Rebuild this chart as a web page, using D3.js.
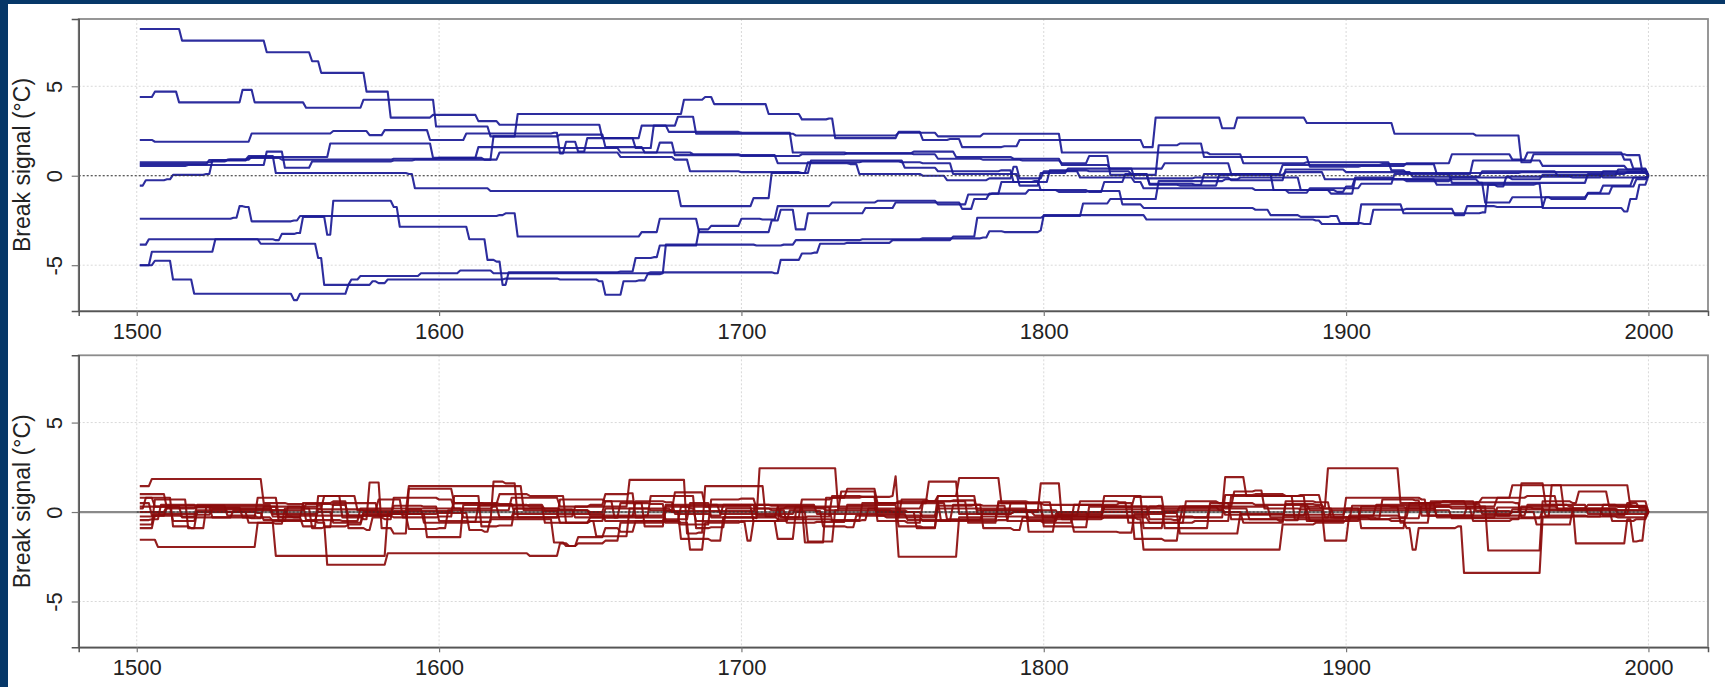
<!DOCTYPE html>
<html>
<head>
<meta charset="utf-8">
<script src="https://cdn.jsdelivr.net/npm/d3@7"></script>
<style>
  html, body { margin: 0; padding: 0; background: #fff; }
  svg { display: block; font-family: "Liberation Sans", Arial, sans-serif; }
</style>
</head>
<body>
<svg id="chart" width="1725" height="687"></svg>
<script>
// Tick labels and axis title
const xTicks = [1500, 1600, 1700, 1800, 1900, 2000];
const yTicks = [-5, 0, 5];
const yLabel = "Break signal (°C)";

// Each series: [year, level] - the level starts at that year (step series)
const blueSeries = [
  [[1501,8.2],[1515,7.55],[1543,6.9],[1558,6.4],[1561,5.75],[1576,4.7],[1584,3.25],[1598,3.4],[1613,3.05],[1620,2.85],[1654,2.1],[1667,2.8],[1679,3.3],[1685,2.35],[1718,2.25],[1740,2.25],[1752,2.4],[1765,2.2],[1780,2.35],[1795,2.35],[1806,1.3],[1830,1.3],[1855,1.2],[1866,0.7],[1887,0.75],[1915,0.3],[1920,0.15],[1958,0.2],[1990,0.15],[2000,0]],
  [[1501,4.4],[1506,4.7],[1514,4.1],[1535,4.8],[1539,4.1],[1556,3.8],[1575,4.25],[1599,2.75],[1617,2.2],[1626,3.45],[1681,4.25],[1688,4.4],[1691,4.0],[1709,3.45],[1720,3.15],[1729,3.2],[1731,2.1],[1752,2.45],[1760,2.0],[1769,2.05],[1773,1.6],[1787,1.65],[1792,2.0],[1811,2.0],[1833,1.6],[1837,3.25],[1859,2.65],[1864,3.25],[1887,2.95],[1916,2.35],[1943,2.25],[1958,0.75],[1962,1.2],[1993,1.15],[1998,0.2],[2000,0]],
  [[1501,2.0],[1506,1.9],[1538,2.36],[1565,2.5],[1577,2.27],[1582,2.55],[1597,2.0],[1609,2.36],[1638,2.4],[1640,1.25],[1642,1.9],[1646,1.35],[1649,2.1],[1665,1.55],[1671,2.8],[1676,2.45],[1700,2.4],[1717,1.3],[1728,1.3],[1735,1.25],[1757,1.35],[1771,1.05],[1790,0.95],[1806,0.6],[1822,0.4],[1840,0.7],[1862,0.1],[1879,0.6],[1895,0.6],[1912,0.65],[1930,0.1],[1942,0.85],[1965,0.55],[1993,0.35],[2000,0]],
  [[1501,0.75],[1525,0.8],[1530,0.85],[1537,1.0],[1545,1.0],[1548,0.9],[1585,0.95],[1600,1.0],[1615,0.9],[1620,1.3],[1650,1.3],[1660,1.05],[1678,0.9],[1683,0.25],[1700,0.2],[1720,0.15],[1722,0.75],[1740,0.8],[1753,0.75],[1760,0.7],[1770,0.1],[1789,0.1],[1792,-0.55],[1797,-0.55],[1799,0.15],[1808,0.4],[1815,0.4],[1830,-0.15],[1850,-0.1],[1862,-0.25],[1880,0.35],[1900,0.2],[1922,-0.05],[1945,0.25],[1970,0.0],[1990,0.35],[2000,0]],
  [[1501,0.65],[1524,0.88],[1531,0.9],[1537,1.1],[1544,1.1],[1546,0.15],[1590,0.1],[1592,-0.7],[1617,-0.85],[1678,-0.85],[1680,-1.7],[1702,-1.7],[1704,-1.25],[1708,-1.25],[1710,0.15],[1721,0.15],[1723,0.85],[1752,0.85],[1754,0.45],[1765,0.25],[1786,0.3],[1790,-0.35],[1797,-0.3],[1799,-0.8],[1815,-0.9],[1820,-0.35],[1827,0.1],[1835,-0.45],[1850,-0.5],[1853,0.1],[1876,-0.8],[1897,-0.9],[1900,-0.6],[1903,-0.1],[1916,-0.2],[1944,-0.4],[1946,-1.5],[1955,-1.2],[1968,-1.3],[1980,-0.95],[1985,-0.55],[1995,-0.1],[2000,0]],
  [[1501,0.55],[1517,0.6],[1543,1.35],[1547,1.35],[1549,0.45],[1556,0.45],[1558,0.8],[1585,0.85],[1592,0.9],[1616,0.9],[1618,2.2],[1640,2.3],[1652,2.3],[1655,1.6],[1668,1.3],[1673,1.85],[1678,1.15],[1700,1.1],[1720,1.2],[1735,1.25],[1757,1.2],[1765,0.95],[1780,0.9],[1793,0.85],[1806,0.7],[1815,1.1],[1822,0.05],[1838,1.7],[1845,1.8],[1853,1.05],[1868,1.05],[1888,0.5],[1905,0.55],[1920,0.7],[1935,1.2],[1955,0.9],[1960,1.3],[1992,0.9],[1995,0.4],[2000,0]],
  [[1501,-0.55],[1503,-0.25],[1510,-0.2],[1512,0.05],[1523,0.1],[1525,0.85],[1530,0.9],[1538,1.05],[1560,1.05],[1564,1.8],[1595,1.8],[1598,1.0],[1611,1.0],[1613,1.6],[1630,1.6],[1640,1.55],[1660,1.3],[1684,1.2],[1700,1.15],[1712,0.7],[1736,0.65],[1739,0.1],[1760,0.0],[1768,-0.25],[1782,-0.15],[1790,0.5],[1792,-0.15],[1800,0.25],[1812,-0.1],[1830,-0.35],[1833,-0.7],[1870,-0.8],[1881,-0.95],[1888,-0.7],[1905,-0.45],[1916,0.1],[1935,-0.4],[1968,-0.4],[1980,0.1],[1993,0.2],[2000,0]],
  [[1501,-2.4],[1532,-2.35],[1534,-1.7],[1536,-1.75],[1538,-2.55],[1552,-2.5],[1554,-2.25],[1620,-2.2],[1622,-2.1],[1626,-3.4],[1665,-3.4],[1667,-3.15],[1673,-2.4],[1684,-2.4],[1686,-3.15],[1708,-3.15],[1710,-2.5],[1713,-1.9],[1716,-1.9],[1718,-3.0],[1720,-3.0],[1722,-2.1],[1736,-2.1],[1741,-1.8],[1751,-1.5],[1771,-1.5],[1773,-1.85],[1777,-1.3],[1782,-1.0],[1786,-0.35],[1800,-0.35],[1802,0.3],[1815,0.25],[1829,0.1],[1835,-0.5],[1845,-0.55],[1858,0.05],[1880,0.2],[1893,-0.2],[1910,-0.2],[1930,-0.5],[1950,-0.6],[1953,-0.05],[1975,-0.1],[1985,0.25],[2000,0]],
  [[1501,-3.85],[1504,-3.55],[1546,-3.6],[1548,-3.25],[1553,-3.2],[1555,-2.3],[1561,-2.3],[1563,-3.3],[1565,-1.4],[1582,-1.4],[1585,-1.75],[1587,-2.85],[1608,-2.85],[1610,-3.55],[1614,-3.55],[1616,-4.7],[1619,-4.8],[1621,-6.1],[1623,-5.4],[1660,-5.35],[1665,-4.6],[1671,-4.55],[1673,-3.9],[1683,-3.9],[1686,-3.0],[1690,-2.8],[1700,-2.4],[1707,-2.45],[1712,-1.7],[1730,-1.5],[1745,-1.4],[1765,-1.6],[1775,-1.05],[1783,-1.0],[1795,-0.8],[1805,-0.9],[1815,-0.85],[1826,-1.6],[1833,-1.8],[1870,-1.9],[1875,-2.2],[1885,-2.3],[1895,-2.25],[1898,-2.65],[1906,-2.7],[1909,-1.9],[1920,-1.85],[1936,-2.2],[1940,-1.7],[1950,-1.75],[1964,-1.75],[1966,-1.2],[1980,-1.0],[1988,-0.6],[1996,-0.2],[2000,0]],
  [[1501,-5.0],[1504,-5.0],[1506,-4.75],[1510,-4.75],[1512,-5.8],[1517,-5.8],[1519,-6.6],[1550,-6.6],[1552,-6.95],[1554,-6.6],[1568,-6.6],[1570,-6.1],[1578,-5.9],[1580,-6.0],[1583,-5.8],[1622,-5.75],[1640,-5.8],[1653,-5.9],[1655,-6.65],[1659,-6.65],[1661,-5.9],[1666,-5.85],[1669,-5.5],[1674,-5.45],[1675,-3.85],[1705,-3.9],[1714,-3.85],[1718,-3.6],[1730,-3.6],[1740,-3.55],[1760,-3.5],[1780,-3.45],[1782,-3.1],[1787,-3.15],[1799,-3.05],[1800,-2.2],[1830,-2.2],[1834,-2.45],[1890,-2.5],[1892,-2.7],[1902,-2.7],[1905,-1.6],[1917,-1.6],[1919,-2.1],[1945,-2.05],[1947,-0.5],[1963,-0.45],[1965,-1.8],[1990,-1.8],[1992,-2.0],[1994,-1.3],[1997,-0.5],[2000,0]],
  [[1501,-5.0],[1505,-4.25],[1524,-4.25],[1526,-3.55],[1539,-3.55],[1541,-3.8],[1558,-3.8],[1560,-4.6],[1562,-6.1],[1569,-6.1],[1571,-5.8],[1574,-5.6],[1592,-5.6],[1594,-5.45],[1605,-5.45],[1607,-5.3],[1616,-5.3],[1618,-5.45],[1640,-5.45],[1670,-5.4],[1700,-5.4],[1711,-5.45],[1713,-4.7],[1718,-4.7],[1720,-4.35],[1724,-4.3],[1726,-3.8],[1735,-3.75],[1750,-3.6],[1770,-3.4],[1778,-2.35],[1800,-2.25],[1813,-1.55],[1822,-1.3],[1835,-1.3],[1838,-0.3],[1860,-0.2],[1865,-0.1],[1885,-0.8],[1895,-1.0],[1900,-1.0],[1903,-0.2],[1920,-0.3],[1935,-0.1],[1955,-0.2],[1965,0.05],[1985,-0.1],[2000,0]]
];

const redSeries = [
  [[1501,1.45],[1504,1.45],[1505,1.85],[1540,1.85],[1542,0.5],[1550,0.45],[1556,-0.45],[1568,-0.5],[1574,0.2],[1590,0.15],[1595,-0.6],[1610,-0.55],[1618,1.7],[1622,1.6],[1626,-0.3],[1640,-0.25],[1645,0.3],[1663,1.8],[1680,1.8],[1682,-1.2],[1686,-1.15],[1688,1.45],[1706,1.45],[1708,-0.25],[1712,-0.4],[1730,-0.45],[1740,0.5],[1752,0.6],[1765,0.9],[1772,1.9],[1784,1.9],[1786,0.5],[1800,0.4],[1820,0.15],[1835,0.3],[1858,0.1],[1860,1.95],[1865,1.95],[1867,0.9],[1885,0.95],[1892,0.3],[1894,2.45],[1916,2.45],[1918,0.5],[1930,0.55],[1945,0.8],[1955,1.5],[1992,1.5],[1994,0.3],[2000,0]],
  [[1501,-1.55],[1505,-1.55],[1507,-1.95],[1538,-1.95],[1540,-0.6],[1544,-0.6],[1546,-2.45],[1581,-2.45],[1583,-0.1],[1600,-0.05],[1610,-1.0],[1615,-1.1],[1617,-0.4],[1630,-0.4],[1638,-1.7],[1642,-1.9],[1646,-1.4],[1655,-0.9],[1660,-1.1],[1665,-0.5],[1680,-0.6],[1683,-2.1],[1686,-2.1],[1688,-0.6],[1700,-0.5],[1712,-1.5],[1716,-1.5],[1718,0.0],[1722,-1.65],[1729,-1.65],[1731,0.1],[1750,0.0],[1752,-2.5],[1770,-2.5],[1772,-0.3],[1780,-0.25],[1795,-0.5],[1805,0.0],[1815,-0.3],[1831,-0.4],[1833,-2.1],[1877,-2.1],[1879,-0.7],[1890,-0.6],[1900,-0.4],[1915,-0.5],[1920,-0.9],[1922,-2.1],[1924,-0.9],[1937,-0.8],[1939,-3.4],[1963,-3.4],[1965,-0.3],[1975,-0.25],[1990,-0.3],[2000,0]],
  [[1501,-0.7],[1504,-0.7],[1506,0.7],[1515,0.7],[1517,-0.9],[1521,-0.9],[1523,0.3],[1545,0.3],[1547,-0.5],[1560,-0.6],[1563,-2.95],[1581,-2.95],[1583,-2.3],[1630,-2.45],[1638,-2.45],[1640,-1.75],[1643,-1.9],[1646,-1.75],[1655,-1.6],[1660,-0.6],[1675,-0.5],[1680,0.3],[1690,0.4],[1705,-0.2],[1714,-0.3],[1720,0.7],[1730,0.8],[1735,1.3],[1742,1.3],[1745,0.5],[1760,0.5],[1762,1.7],[1770,1.7],[1772,-0.1],[1790,0.0],[1797,0.0],[1799,1.6],[1804,1.6],[1806,-0.4],[1820,-0.3],[1835,-0.6],[1850,-0.5],[1862,0.9],[1875,0.9],[1887,-0.5],[1897,-0.5],[1905,0.3],[1920,0.2],[1930,0.3],[1946,0.3],[1947,-2.15],[1963,-2.15],[1965,0.6],[1975,0.5],[1977,1.15],[1985,1.15],[1987,0.3],[2000,0]],
  [[1501,1.0],[1508,1.0],[1510,0.2],[1520,0.3],[1525,0.25],[1535,-0.3],[1540,0.8],[1545,0.8],[1547,-0.3],[1555,-0.8],[1560,0.9],[1566,0.9],[1568,-0.3],[1575,-0.4],[1577,1.65],[1579,1.65],[1581,-0.9],[1585,-1.2],[1590,1.3],[1600,1.3],[1605,0.5],[1615,0.45],[1620,1.0],[1630,0.9],[1642,-0.6],[1650,-0.3],[1660,0.5],[1670,0.45],[1675,-0.6],[1680,-0.7],[1690,0.7],[1700,0.75],[1705,0.2],[1715,0.3],[1721,-1.7],[1726,-1.7],[1728,0.8],[1740,0.85],[1750,0.9],[1751,2.0],[1752,-0.3],[1760,-0.5],[1770,0.4],[1780,0.35],[1788,-0.5],[1800,-0.6],[1810,0.4],[1825,0.5],[1830,-1.5],[1840,-1.6],[1845,-0.3],[1857,-0.3],[1860,0.95],[1870,1.0],[1880,0.9],[1883,-0.4],[1895,-0.4],[1900,0.8],[1915,0.8],[1925,0.7],[1927,-0.2],[1940,0.3],[1950,0.8],[1960,0.9],[1970,0.1],[1985,-0.2],[1993,0.5],[1997,0.2],[2000,0]],
  [[1501,0.5],[1503,0.5],[1505,-0.2],[1515,-0.25],[1520,0.4],[1540,0.4],[1545,-0.1],[1560,0.0],[1565,-0.6],[1572,-0.6],[1575,0.0],[1590,-0.1],[1596,-1.4],[1605,-1.4],[1608,0.4],[1630,0.3],[1635,-0.6],[1650,-0.5],[1652,-1.35],[1660,-1.35],[1663,0.2],[1677,0.0],[1680,-1.5],[1690,-1.6],[1694,-0.3],[1705,-0.35],[1706,2.45],[1730,2.45],[1732,0.2],[1745,0.0],[1760,-0.3],[1765,0.9],[1776,0.9],[1778,-0.1],[1790,0.0],[1797,-0.2],[1810,-0.25],[1820,0.3],[1838,0.35],[1840,-0.9],[1852,-0.9],[1855,0.5],[1870,0.4],[1888,0.1],[1893,-1.6],[1899,-1.6],[1901,-0.2],[1918,-0.3],[1921,0.5],[1932,0.6],[1940,0.2],[1950,-0.2],[1960,0.4],[1974,0.3],[1976,-1.75],[1991,-1.75],[1993,-0.4],[1995,-1.65],[1997,-1.6],[1999,-0.1],[2000,0]],
  [[1501,0.2],[1503,0.8],[1510,0.8],[1512,-0.8],[1518,-0.9],[1520,0.1],[1530,0.2],[1545,-0.25],[1552,-0.3],[1555,0.5],[1565,0.6],[1570,-0.9],[1576,-1.0],[1578,-0.3],[1582,-0.4],[1585,0.8],[1600,0.7],[1605,0.2],[1618,0.3],[1620,-0.3],[1635,-0.3],[1640,0.7],[1655,0.6],[1658,-0.3],[1668,-0.2],[1670,0.9],[1683,0.9],[1685,-0.9],[1690,-0.85],[1695,0.2],[1710,0.1],[1715,-0.6],[1725,-0.55],[1735,0.4],[1750,0.4],[1752,-0.8],[1760,-0.85],[1765,0.35],[1777,0.4],[1780,-0.9],[1790,-1.0],[1793,-0.3],[1805,-0.2],[1812,0.6],[1825,0.55],[1828,-0.6],[1840,-0.6],[1847,0.6],[1858,0.5],[1862,-0.4],[1880,-0.45],[1885,0.3],[1892,0.2],[1905,-0.9],[1915,-0.9],[1920,0.3],[1935,0.2],[1942,-0.5],[1955,-0.4],[1958,0.3],[1970,0.2],[1980,0.4],[1990,0.3],[2000,0]],
  [[1501,-0.45],[1505,-0.4],[1508,0.4],[1520,0.35],[1530,-0.2],[1540,-0.3],[1545,-0.5],[1550,0.3],[1560,0.35],[1562,-0.8],[1570,-0.7],[1575,-0.1],[1588,-0.15],[1590,-0.95],[1600,-0.9],[1603,0.1],[1620,0.1],[1624,0.8],[1636,0.8],[1640,0.3],[1650,0.4],[1655,1.0],[1663,1.05],[1665,-0.3],[1675,-0.4],[1683,0.5],[1688,0.5],[1690,-0.3],[1700,-0.3],[1712,0.3],[1725,0.25],[1730,-0.5],[1740,-0.45],[1742,0.2],[1755,0.2],[1760,0.6],[1770,0.65],[1778,0.1],[1790,0.1],[1800,-0.3],[1810,-1.1],[1825,-1.15],[1830,-0.1],[1840,-0.05],[1845,-1.2],[1860,-1.2],[1865,-0.1],[1880,-0.2],[1887,0.2],[1893,0.2],[1896,-0.3],[1908,-0.4],[1915,-0.35],[1925,0.4],[1935,0.45],[1945,-0.1],[1955,0.0],[1963,-0.7],[1970,-0.7],[1975,0.2],[1990,0.1],[2000,0]],
  [[1501,0.0],[1506,0.0],[1510,0.35],[1520,0.3],[1525,-0.3],[1538,-0.35],[1542,0.3],[1555,0.2],[1558,-0.9],[1562,-0.85],[1565,0.5],[1575,0.5],[1580,-0.2],[1585,0.35],[1595,0.3],[1600,-0.5],[1610,-0.55],[1613,0.35],[1630,0.4],[1635,0.1],[1650,0.0],[1655,0.6],[1665,0.5],[1668,-0.8],[1672,-0.8],[1675,0.3],[1683,0.2],[1685,-0.5],[1700,-0.55],[1702,-1.6],[1704,-0.5],[1712,-0.5],[1716,0.1],[1725,0.05],[1727,-0.8],[1735,-0.85],[1738,-0.2],[1748,-0.3],[1753,0.7],[1762,0.6],[1766,-0.5],[1785,-0.45],[1789,0.5],[1800,0.55],[1803,-0.3],[1815,-0.3],[1820,0.3],[1830,0.3],[1835,-0.4],[1843,-0.45],[1846,0.3],[1860,0.2],[1868,-0.4],[1878,-0.5],[1880,0.45],[1890,0.4],[1893,-0.3],[1905,-0.2],[1910,0.4],[1925,0.5],[1930,-0.3],[1945,-0.3],[1950,0.25],[1962,0.2],[1966,-0.2],[1980,-0.25],[1985,0.4],[1995,0.35],[2000,0]],
  [[1501,-0.25],[1507,-0.2],[1510,0.25],[1525,0.2],[1530,0.0],[1540,-0.05],[1542,-0.45],[1555,-0.5],[1560,0.15],[1575,0.1],[1580,0.7],[1586,0.7],[1588,-0.3],[1600,-0.25],[1605,0.9],[1612,0.9],[1614,-0.8],[1620,-0.75],[1625,0.2],[1640,0.15],[1645,-0.3],[1660,-0.25],[1665,0.6],[1675,0.55],[1678,-0.1],[1690,-0.2],[1694,0.4],[1710,0.35],[1713,-0.3],[1722,-0.25],[1730,0.9],[1740,0.85],[1745,-0.5],[1755,-0.6],[1760,0.5],[1765,0.5],[1768,-0.4],[1780,-0.4],[1785,0.5],[1793,0.5],[1795,-1.1],[1802,-1.1],[1804,-0.1],[1815,-0.1],[1820,0.9],[1830,0.9],[1833,-0.9],[1838,-0.9],[1840,0.1],[1860,0.0],[1866,-0.6],[1875,-0.6],[1880,0.6],[1890,0.55],[1895,-0.3],[1910,-0.35],[1912,0.7],[1923,0.65],[1925,-0.2],[1940,-0.2],[1943,0.55],[1956,0.5],[1958,-0.3],[1965,-0.25],[1968,1.5],[1970,1.5],[1972,0.2],[1985,0.2],[1988,-0.5],[1996,-0.4],[2000,0]],
  [[1501,0.8],[1504,0.8],[1506,0.3],[1512,-0.5],[1517,-0.5],[1520,0.0],[1535,0.0],[1537,-0.6],[1546,-0.65],[1549,0.2],[1560,0.2],[1562,0.9],[1570,0.9],[1573,0.1],[1585,0.0],[1590,1.45],[1625,1.45],[1628,0.1],[1635,0.05],[1640,-0.6],[1650,-0.5],[1655,0.2],[1670,0.1],[1678,1.1],[1685,1.1],[1688,0.3],[1700,0.3],[1704,-0.5],[1710,-0.5],[1713,0.2],[1728,0.1],[1733,1.15],[1743,1.15],[1745,0.1],[1755,0.0],[1758,-0.9],[1762,-0.9],[1765,0.6],[1773,0.6],[1775,-0.6],[1782,-0.6],[1785,0.6],[1795,0.55],[1800,-0.8],[1810,-0.85],[1815,0.3],[1828,0.25],[1830,0.85],[1838,0.85],[1840,-0.25],[1850,-0.3],[1855,0.35],[1860,0.3],[1863,1.15],[1870,1.2],[1873,0.2],[1885,0.15],[1888,-0.5],[1898,-0.5],[1902,0.35],[1915,0.3],[1918,-0.6],[1925,-0.6],[1928,0.6],[1940,0.6],[1943,0.05],[1955,0.0],[1958,1.6],[1963,1.6],[1966,0.4],[1975,0.4],[1980,-0.1],[1992,-0.1],[1994,0.6],[1997,0.6],[2000,0]],
  [[1501,0.3],[1512,0.3],[1515,-0.3],[1530,-0.3],[1532,0.1],[1550,0.1],[1556,0.45],[1565,0.4],[1570,-0.2],[1585,-0.3],[1590,0.2],[1605,0.2],[1608,-0.3],[1622,-0.3],[1625,0.2],[1640,0.1],[1650,-0.2],[1670,-0.2],[1675,0.4],[1690,0.4],[1693,-0.1],[1715,-0.1],[1718,0.3],[1740,0.3],[1745,-0.2],[1760,-0.2],[1765,0.2],[1790,0.2],[1795,-0.4],[1810,-0.4],[1815,0.0],[1840,0.0],[1845,0.3],[1870,0.3],[1875,-0.3],[1890,-0.3],[1895,0.1],[1930,0.1],[1935,-0.35],[1960,-0.35],[1965,0.1],[2000,0]],
  [[1501,-0.9],[1504,-0.9],[1506,-0.1],[1520,-0.15],[1525,0.15],[1545,0.1],[1550,-0.2],[1580,-0.2],[1585,0.05],[1600,0.05],[1605,0.5],[1620,0.45],[1625,-0.1],[1650,-0.1],[1655,-0.5],[1670,-0.5],[1675,0.05],[1700,0.05],[1705,0.4],[1720,0.4],[1725,-0.1],[1750,-0.1],[1755,-0.45],[1775,-0.45],[1780,0.1],[1800,0.1],[1805,-0.2],[1830,-0.2],[1835,0.2],[1855,0.2],[1860,-0.15],[1895,-0.15],[1900,0.2],[1925,0.2],[1930,-0.2],[1950,-0.2],[1955,0.15],[1985,0.15],[1990,-0.1],[2000,0]]
];

const W = 1725, H = 687;
const svg = d3.select("#chart");

// slide frame: dark blue strip top and left
svg.append("rect").attr("width", W).attr("height", H).attr("fill", "#063768");
svg.append("rect").attr("x", 8).attr("y", 4).attr("width", W - 8).attr("height", H - 4).attr("fill", "#fff");

const x = d3.scaleLinear().domain([1480.8, 2019.7]).range([78.7, 1708]);

// a level holds until the next change year, then ramps over one year
function stepPoints(steps) {
  const pts = [steps[0]];
  for (let i = 1; i < steps.length; i++) {
    const prev = steps[i - 1];
    pts.push([Math.max(steps[i][0] - 1, prev[0]), prev[1]]);
    pts.push(steps[i]);
  }
  return pts;
}

function drawPanel(top, bottom, series, color, bottomPanel) {
  const y = d3.scaleLinear().domain([-7.56, 8.76]).range([bottom, top]);
  const g = svg.append("g");
  const left = x.range()[0], right = x.range()[1];

  // grid
  g.selectAll(".gx").data(xTicks).join("line")
    .attr("x1", d => x(d)).attr("x2", d => x(d)).attr("y1", top).attr("y2", bottom)
    .attr("stroke", "#d9d9d9").attr("stroke-width", 1).attr("stroke-dasharray", "2,2");
  g.selectAll(".gy").data(yTicks).join("line")
    .attr("x1", left).attr("x2", right).attr("y1", d => y(d)).attr("y2", d => y(d))
    .attr("stroke", "#d9d9d9").attr("stroke-width", 1).attr("stroke-dasharray", "2,2");

  if (bottomPanel) {
    g.append("line").attr("x1", left).attr("x2", right).attr("y1", y(0)).attr("y2", y(0))
      .attr("stroke", "#8a8a8a").attr("stroke-width", 2.2);
  }

  const line = d3.line().x(d => x(d[0])).y(d => y(d[1]));
  g.selectAll(".series").data(series).join("path")
    .attr("d", d => line(stepPoints(d)))
    .attr("fill", "none").attr("stroke", color).attr("stroke-width", 2.1)
    .attr("stroke-opacity", 0.92).attr("stroke-linejoin", "round");

  // zero reference line
  g.append("line")
    .attr("x1", bottomPanel ? x(1500) : left).attr("x2", bottomPanel ? x(2000) : right)
    .attr("y1", y(0)).attr("y2", y(0))
    .attr("stroke", "#333").attr("stroke-width", 1).attr("stroke-dasharray", "2,2");

  // box
  g.append("rect").attr("x", left).attr("y", top).attr("width", right - left).attr("height", bottom - top)
    .attr("fill", "none").attr("stroke", "#8c8c8c").attr("stroke-width", 1.8);

  // axes
  const xAxis = g.append("g").attr("transform", `translate(0,${bottom})`)
    .call(d3.axisBottom(x).tickValues(xTicks).tickFormat(d3.format("d")).tickSize(5).tickPadding(6));
  xAxis.select(".domain").attr("stroke", "#555").attr("stroke-width", 1.5);
  xAxis.selectAll(".tick line").attr("stroke", "#777").attr("stroke-width", 1.2);
  xAxis.selectAll(".tick text").attr("font-size", 22).attr("fill", "#222")
    .attr("font-family", "Liberation Sans, Arial, sans-serif").attr("dy", "0.78em");

  const yAxis = g.append("g").attr("transform", `translate(${left},0)`)
    .call(d3.axisLeft(y).tickValues(yTicks).tickSize(7).tickPadding(0));
  yAxis.select(".domain").attr("stroke", "#555").attr("stroke-width", 1.5);
  yAxis.selectAll(".tick line").attr("stroke", "#777").attr("stroke-width", 1.2);
  yAxis.selectAll(".tick text").remove();
  yAxis.selectAll(".tick").append("text")
    .attr("transform", "translate(-17,0) rotate(-90)")
    .attr("text-anchor", "middle").attr("font-size", 22).attr("fill", "#222")
    .text(d => d);

  g.append("text")
    .attr("transform", `translate(29.5,${(top + bottom) / 2}) rotate(-90)`)
    .attr("text-anchor", "middle").attr("font-size", 23).attr("fill", "#222")
    .text(yLabel);
}

drawPanel(19, 311, blueSeries, "#1b1b96", false);
drawPanel(355.3, 647.3, redSeries, "#8b0b0b", true);
</script>
</body>
</html>
